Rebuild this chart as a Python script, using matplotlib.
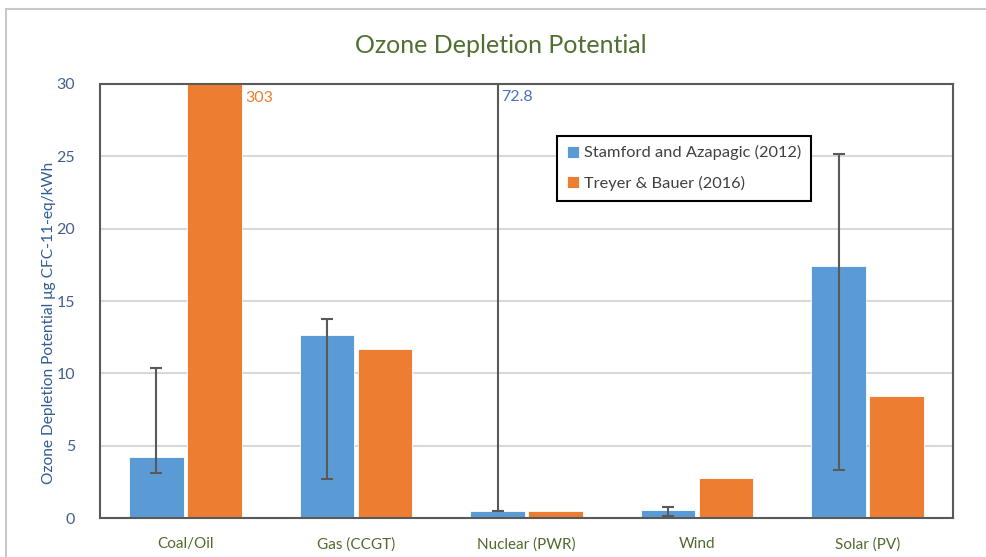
import matplotlib.pyplot as plt
import numpy as np
from matplotlib.patches import Rectangle

plt.rcParams['font.family'] = ['Lato', 'DejaVu Sans']

# ozone depletion, ug CFC-11-eq per kWh
technologies = ["Coal/Oil", "Gas (CCGT)", "Nuclear (PWR)", "Wind", "Solar (PV)"]
stamford = [4.2, 12.65, 0.5, 0.55, 17.4]
stamford_low = [3.1, 2.7, 0.5, 0.16, 3.3]
stamford_high = [10.4, 13.75, 72.8, 0.74, 25.15]
treyer = [303, 11.7, 0.5, 2.8, 8.4]

blue = "#5b9bd5"
orange = "#ed7d31"

fig = plt.figure(figsize=(9.87, 5.57), dpi=100)
ax = fig.add_axes([0.1013, 0.070, 0.8643, 0.7792])

# light grey frame around the chart area
fig.patches.append(Rectangle((0.006, -0.1), 1.2, 1.084, transform=fig.transFigure,
                             fill=False, edgecolor="#c8c8c8", lw=1.5))

x = np.arange(len(technologies))
w = 0.32
yerr = [np.array(stamford) - np.array(stamford_low),
        np.array(stamford_high) - np.array(stamford)]
ax.bar(x - 0.17, stamford, w, color=blue, edgecolor="white", lw=0.6,
       label="Stamford and Azapagic (2012)", zorder=2)
ax.bar(x + 0.17, treyer, w, color=orange, edgecolor="white", lw=0.6,
       label="Treyer & Bauer (2016)", zorder=2)
ax.errorbar(x - 0.17, stamford, yerr=yerr, fmt="none", ecolor="#595959",
            elinewidth=1.5, capsize=4, capthick=1.5, zorder=3)

# values that run off the top of the axis
ax.text(x[0] + 0.17 + w / 2 + 0.02, 29.5, f"{treyer[0]:g}", color=orange,
        fontsize=11.5, va="top", ha="left")
ax.text(x[2] - 0.17 + 0.02, 29.6, f"{stamford_high[2]:g}", color="#4472c4",
        fontsize=11.5, va="top", ha="left")

ax.set_xlim(-0.5, 4.5)
ax.set_ylim(0, 30)
ax.set_yticks([0, 5, 10, 15, 20, 25, 30])
ax.set_xticks(x)
ax.set_xticklabels(technologies)
ax.tick_params(axis="x", length=0, pad=14, labelsize=11, labelcolor="#4f6b2c")
ax.tick_params(axis="y", length=0, pad=18, labelsize=11.5, labelcolor="#44608a")
ax.grid(axis="y", color="#d9d9d9", lw=1.5, zorder=0)
ax.set_axisbelow(True)
for s in ax.spines.values():
    s.set_color("#595959")
    s.set_linewidth(1.5)

ax.set_ylabel("Ozone Depletion Potential μg CFC-11-eq/kWh", color="#2e5c96",
              fontsize=11.2)
ax.yaxis.set_label_coords(-0.051, 0.45)
fig.text(0.507, 0.918, "Ozone Depletion Potential", ha="center", va="center",
         color="#4f7030", fontsize=18)

leg = ax.legend(loc="upper left", bbox_to_anchor=(0.526, 0.9), fontsize=11.8,
                fancybox=False, framealpha=1, edgecolor="black", labelspacing=0.95,
                handlelength=0.75, handleheight=0.75, handletextpad=0.3,
                borderpad=0.6)
leg.get_frame().set_linewidth(1.5)
for t in leg.get_texts():
    t.set_color("#404040")

fig.savefig("out.png", dpi=100)
